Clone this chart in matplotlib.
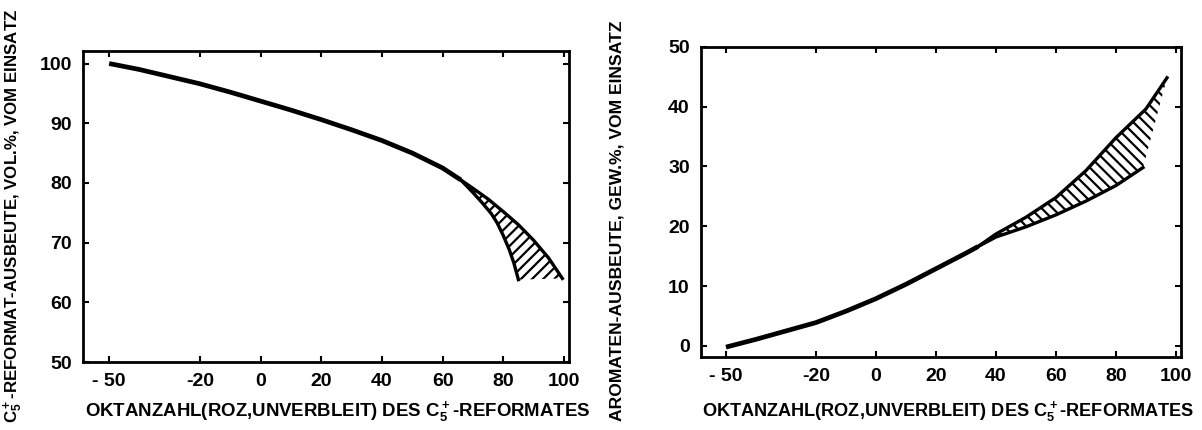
import matplotlib
matplotlib.use("Agg")
import matplotlib.pyplot as plt

plt.rcParams['font.family'] = ['Liberation Sans', 'DejaVu Sans']
plt.rcParams['font.weight'] = 'bold'
plt.rcParams['axes.labelweight'] = 'bold'
plt.rcParams['mathtext.fontset'] = 'custom'
plt.rcParams['mathtext.bf'] = 'Liberation Sans:bold'
plt.rcParams['mathtext.default'] = 'bf'
plt.rcParams['axes.unicode_minus'] = False
plt.rcParams['hatch.linewidth'] = 1.6

# x ticks, both panels
x_ticks = [-50, -20, 0, 20, 40, 60, 80, 100]
x_ticklabels = ['- 50', '-20', '0', '20', '40', '60', '80', '100']

# left panel: C5+ reformate yield
yield_x = [-50, -40, -30, -20, -10, 0, 10, 20, 30, 40, 50, 60, 66]
yield_y = [100, 99.0, 97.8, 96.6, 95.2, 93.7, 92.2, 90.6, 88.9, 87.1, 85.0, 82.5, 80.5]
yield_outer_x = [66, 70, 75, 80, 85, 90, 95, 99.5]
yield_outer_y = [80.5, 79.1, 77.3, 75.2, 73.0, 70.4, 67.4, 64.0]
yield_inner_x = [66, 70, 73, 76, 78, 80, 82, 83.5, 85]
yield_inner_y = [80.5, 78.4, 76.7, 74.9, 73.3, 71.2, 68.8, 66.6, 63.8]
yield_yticks = [50, 60, 70, 80, 90, 100]

# right panel: aromatics yield
arom_x = [-50, -40, -30, -20, -10, 0, 10, 20, 30, 34]
arom_y = [-0.2, 1.1, 2.5, 3.9, 5.8, 7.9, 10.3, 12.9, 15.5, 16.6]
arom_upper_x = [34, 40, 50, 60, 70, 80, 90, 97]
arom_upper_y = [16.6, 18.7, 21.5, 24.8, 29.3, 34.8, 39.6, 44.8]
arom_lower_x = [34, 40, 50, 60, 70, 80, 89]
arom_lower_y = [16.6, 18.2, 19.9, 21.9, 24.2, 26.8, 29.8]
arom_yticks = [0, 10, 20, 30, 40, 50]

xlabel = r'OKTANZAHL(ROZ,UNVERBLEIT) DES C$_5^+$-REFORMATES'


def style_axes(ax, yticks):
    ax.set_xticks(x_ticks)
    ax.set_xticklabels(x_ticklabels)
    ax.set_yticks(yticks)
    ax.tick_params(direction='in', length=4, width=1.5, top=True, right=True,
                   labelsize=14, pad=8)
    for s in ax.spines.values():
        s.set_linewidth(2)


fig = plt.figure(figsize=(12.02, 4.30), dpi=100)

ax1 = fig.add_axes([0.0691, 0.1581, 0.4043, 0.7233])
ax1.plot(yield_x, yield_y, color='black', lw=3.4, solid_capstyle='butt')
ax1.plot(yield_outer_x, yield_outer_y, color='black', lw=2.4)
ax1.plot(yield_inner_x, yield_inner_y, color='black', lw=2.4)
ax1.fill(yield_outer_x + yield_inner_x[::-1], yield_outer_y + yield_inner_y[::-1],
         facecolor='none', edgecolor='black', lw=0, hatch='///')
ax1.set_xlim(-58.6, 101.7)
ax1.set_ylim(50, 102.1)
style_axes(ax1, yield_yticks)
ax1.set_xlabel(xlabel, fontsize=13.4)
ax1.xaxis.set_label_coords(0.525, -0.12)
ax1.set_ylabel(r'C$_5^+$-REFORMAT-AUSBEUTE, VOL.%, VOM EINSATZ', fontsize=12.2)
ax1.yaxis.set_label_coords(-0.119, 0.47)

ax2 = fig.add_axes([0.583, 0.1705, 0.3996, 0.7209])
ax2.plot(arom_x, arom_y, color='black', lw=3.4, solid_capstyle='butt')
ax2.plot(arom_upper_x, arom_upper_y, color='black', lw=2.4)
ax2.plot(arom_lower_x, arom_lower_y, color='black', lw=2.4)
ax2.fill(arom_upper_x + arom_lower_x[::-1], arom_upper_y + arom_lower_y[::-1],
         facecolor='none', edgecolor='black', lw=0, hatch='\\\\\\')
ax2.set_xlim(-58.4, 101.7)
ax2.set_ylim(-1.8, 50)
style_axes(ax2, arom_yticks)
ax2.set_xlabel(xlabel, fontsize=13.1)
ax2.xaxis.set_label_coords(0.515, -0.137)
ax2.set_ylabel('AROMATEN-AUSBEUTE, GEW.%, VOM EINSATZ', fontsize=12.6)
ax2.yaxis.set_label_coords(-0.158, 0.44)

fig.savefig('out.png', dpi=100)
